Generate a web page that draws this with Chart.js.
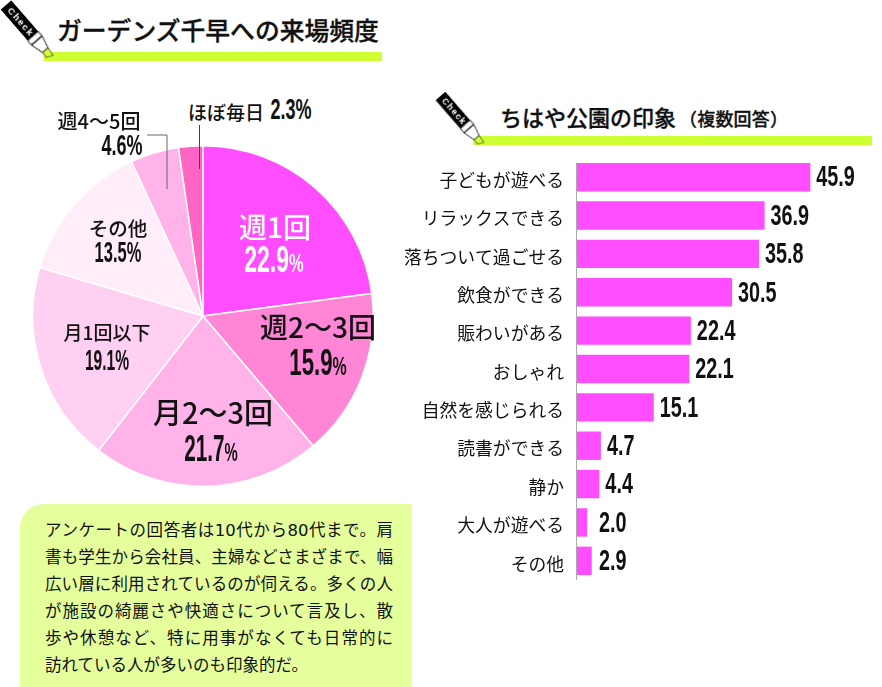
<!DOCTYPE html>
<html lang="ja"><head><meta charset="utf-8">
<script src="https://cdn.jsdelivr.net/npm/chart.js@4"></script>
<style>
html,body{margin:0;padding:0;background:#fff;overflow:hidden}
body{width:882px;height:687px;position:relative;font-family:"Noto Sans CJK JP",sans-serif;color:#111}
canvas{position:absolute;display:block}
.hl{position:absolute;background:#ceff33}
.t{position:absolute;white-space:nowrap;line-height:1;-webkit-text-stroke:.3px #111}
.lab{position:absolute;white-space:nowrap;line-height:1;transform:translate(-50%,-50%);font-weight:500}
.num{position:absolute;white-space:nowrap;line-height:1;font-family:"Liberation Sans Narrow","Liberation Sans",sans-serif;font-weight:700}
.num small{font-size:.72em}
#note{position:absolute;left:20px;top:504px;width:392px;height:183px;background:#e4ff9c;border-top-left-radius:24px}
#note div{position:absolute;left:25px;width:348px;font-family:"DejaVu Sans","Noto Sans CJK JP",sans-serif;font-size:16.5px;line-height:1;white-space:nowrap;text-align:justify;text-align-last:justify}
#note div:last-child{text-align-last:left}
svg{position:absolute;left:0;top:0}
</style></head><body>
<div class="hl" style="left:44px;top:52px;width:338px;height:9px"></div>
<div class="hl" style="left:473px;top:136px;width:399px;height:9px"></div>
<div class="t" id="t1" style="left:57px;top:17px;font-size:24.8px;font-weight:500"></div>
<div class="t" id="t2" style="left:500px;top:105px;font-size:22px;font-weight:500"></div>
<div class="t" id="t2b" style="left:679px;top:109px;font-size:18px;font-weight:500;letter-spacing:.2px"></div>
<canvas id="pie" width="342" height="342" style="left:32px;top:145px"></canvas>
<canvas id="bar" width="492" height="422" style="left:390px;top:158px"></canvas>
<div id="labels"></div>
<div id="note"></div>
<svg width="882" height="687">
 <defs><g id="pen">
  <rect x="0" y="-7" width="41" height="14" fill="#000"/>
  <text x="5" y="3.4" font-size="9.5" font-weight="700" fill="#fff" font-family="Liberation Sans,sans-serif" letter-spacing="1.3">Check!</text>
  <path d="M41 -7L47 -7L47 7L41 7ZM47 -7L60 -3.6L60 3.6L47 7Z" fill="#fff" stroke="#000" stroke-width=".8"/>
  <path d="M60 -3.6L69 -2.5L66 4L60 3.6Z" fill="#ceff33" stroke="#333" stroke-width=".7"/>
 </g></defs>
 <use href="#pen" transform="translate(6,5) rotate(49)"/>
 <use href="#pen" transform="translate(440.5,96) rotate(49) scale(.92)"/>
 <path d="M147 135H167V189" fill="none" stroke="#666" stroke-width="1"/>
 <path d="M199.5 125V169" fill="none" stroke="#444" stroke-width="1"/>
</svg>
<script>
const titleFreq = "ガーデンズ千早への来場頻度";
const titlePark = "ちはや公園の印象";
const titleParkSub = "（複数回答）";
const pieCategories = ["週1回","週2〜3回","月2〜3回","月1回以下","その他","週4〜5回","ほぼ毎日"];
const pieValues = [22.9,15.9,21.7,19.1,13.5,4.6,2.3];
const pieColors = ["#ff4dff","#ff85d6","#ffb3e8","#ffd0f1","#ffedfa","#ffb3e8","#ff66c4"];
const barCategories = ["子どもが遊べる","リラックスできる","落ちついて過ごせる","飲食ができる","賑わいがある","おしゃれ","自然を感じられる","読書ができる","静か","大人が遊べる","その他"];
const barValues = [45.9,36.9,35.8,30.5,22.4,22.1,15.1,4.7,4.4,2.0,2.9];
const noteLines = ["アンケートの回答者は10代から80代まで。肩","書も学生から会社員、主婦などさまざまで、幅","広い層に利用されているのが伺える。多くの人","が施設の綺麗さや快適さについて言及し、散","歩や休憩など、特に用事がなくても日常的に","訪れている人が多いのも印象的だ。"];

document.getElementById('t1').textContent = titleFreq;
document.getElementById('t2').textContent = titlePark;
document.getElementById('t2b').textContent = titleParkSub;
const note = document.getElementById('note');
noteLines.forEach((s,i)=>{const d=document.createElement('div');d.textContent=s;d.style.top=(19+i*27)+'px';note.appendChild(d);});

// label placement: [label cx, cy, size, value cx, cy, size, colour, small %, value x-scale]
const place = [
 [275,226,28,274,259,37,"#fff",1,.62],
 [318,326,28,318,362,37,"#111",1,.6],
 [213,411,29,211,448,37,"#111",1,.56],
 [107,331,19,107,360,30,"#111",0,.52],
 [118,228,19.5,118,252,30,"#111",0,.55],
 [99,121,20,122,145,30,"#111",0,.6],
 [226,111,19,291,109,30,"#111",0,.6]
];
const box = document.getElementById('labels');
pieCategories.forEach((c,i)=>{
  const p = place[i];
  const a = document.createElement('div'); a.className='lab'; a.textContent=c;
  a.style.cssText=`left:${p[0]}px;top:${p[1]}px;font-size:${p[2]}px;color:${p[6]}`;
  const b = document.createElement('div'); b.className='num';
  b.innerHTML = pieValues[i].toFixed(1)+(p[7]?'<small>%</small>':'%');
  b.style.cssText=`left:${p[3]}px;top:${p[4]}px;font-size:${p[5]}px;color:${p[6]};transform:translate(-50%,-50%) scaleX(${p[8]})`;
  box.appendChild(a); box.appendChild(b);
});

new Chart(document.getElementById('pie'),{
  type:'pie',
  data:{labels:pieCategories,datasets:[{data:pieValues,backgroundColor:pieColors,borderColor:'#fff',borderWidth:1.5}]},
  options:{responsive:false,animation:false,devicePixelRatio:1,layout:{padding:0},plugins:{legend:{display:false},tooltip:{enabled:false}}}
});

const barDecor = {
  id:'barDecor',
  beforeDatasetsDraw(ch){
    const m = ch.getDatasetMeta(0).data, c = ch.ctx, x = ch.scales.x.getPixelForValue(0);
    c.save(); c.strokeStyle='#aaa'; c.lineWidth=1; c.beginPath();
    c.moveTo(x-.5, m[0].y-m[0].height/2); c.lineTo(x-.5, m[m.length-1].y+m[m.length-1].height/2+5); c.stroke(); c.restore();
  },
  afterDatasetsDraw(ch){
    const m = ch.getDatasetMeta(0).data, c = ch.ctx, x0 = ch.scales.x.getPixelForValue(0);
    c.save(); c.fillStyle='#111'; c.font='700 30px "Liberation Sans Narrow","Liberation Sans",sans-serif'; c.textBaseline='middle';
    m.forEach((el,i)=>{
      c.save(); c.translate(Math.max(el.x+6,x0+22), el.y+1); c.scale(.66,1);
      c.fillText(barValues[i].toFixed(1),0,0); c.restore();
    });
    c.restore();
  }
};
new Chart(document.getElementById('bar'),{
  type:'bar',
  data:{labels:barCategories,datasets:[{data:barValues,backgroundColor:'#ff4dff',categoryPercentage:1,barPercentage:.74}]},
  options:{indexAxis:'y',responsive:false,animation:false,devicePixelRatio:1,layout:{padding:0},
    plugins:{legend:{display:false},tooltip:{enabled:false}},
    scales:{
      x:{display:false,min:0,max:60},
      y:{afterFit(s){s.width=187;s.paddingTop=0;s.paddingBottom=0;},grid:{display:false,drawTicks:false,tickLength:0},border:{display:false},
         ticks:{color:'#111',padding:13,labelOffset:3,autoSkip:false,font:{family:'"Noto Sans CJK JP"',size:17.8}}}
    }},
  plugins:[barDecor]
});
</script>
</body></html>
